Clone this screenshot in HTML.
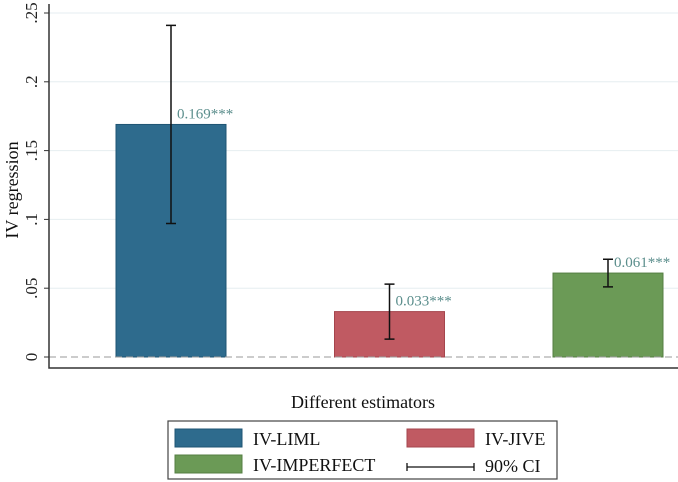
<!DOCTYPE html>
<html><head><meta charset="utf-8"><style>
body{margin:0;background:#fff;}
svg{display:block;font-family:"Liberation Serif",serif;}
</style></head><body>
<svg id="c" width="678" height="482"></svg>
<script>
const categories=["IV-LIML","IV-JIVE","IV-IMPERFECT"];
const values=[0.169,0.033,0.061];
const ciLow=[0.097,0.013,0.051];
const ciHigh=[0.241,0.053,0.071];
const valueLabels=["0.169***","0.033***","0.061***"];
const yTicks=[0,0.05,0.1,0.15,0.2,0.25];
const yTickLabels=["0",".05",".1",".15",".2",".25"];
const colors=["#2e6b8d","#c05a62","#6b9a56"];
const strokes=["#1f5574","#a5454d","#557f43"];
const NS="http://www.w3.org/2000/svg";
const svg=document.getElementById('c');
function y(v){return 357-v*1376;}
function x(i){return 116+i*218.5;}
const bw=110;
function mk(t,a,p){const e=document.createElementNS(NS,t);for(const k in a)e.setAttribute(k,a[k]);(p||svg).appendChild(e);return e;}
yTicks.forEach((t,i)=>{
 if(t>0){const g=mk('line',{x1:49,x2:678,y1:y(t),y2:y(t),stroke:'#e6eef0','stroke-width':1});
 
 }
 const tk=mk('line',{x1:44,x2:49,y1:y(t),y2:y(t),stroke:'#333'});
 
 
 const tx=mk('text',{x:37,y:y(t),'font-size':17,'text-anchor':'middle',transform:`rotate(-90 37 ${y(t)})`,fill:'#222'});
 tx.textContent=yTickLabels[i];
 
 
});
values.forEach((v,i)=>{
 const b=mk('rect',{x:x(i),y:y(v),width:bw,height:y(0)-y(v),fill:colors[i],stroke:strokes[i]});
 
 
 const cx=x(i)+bw/2;
 const e=mk('path',{d:`M${cx} ${y(ciLow[i])}V${y(ciHigh[i])}M${cx-5} ${y(ciLow[i])}h10M${cx-5} ${y(ciHigh[i])}h10`,stroke:'#111','stroke-width':1.5,fill:'none'});
 
 
 const t=mk('text',{x:cx+6,y:y(v)-6,'font-size':15,fill:'#5b8e8c'});
 t.textContent=valueLabels[i];
 
 
});
const z=mk('line',{x1:49,x2:678,y1:y(0),y2:y(0),stroke:'#999','stroke-dasharray':'7 4'});


const ax=mk('path',{d:'M49 4V368H678',stroke:'#333','stroke-width':1.5,fill:'none'});


const yt=mk('text',{x:18,y:190,'font-size':18,'text-anchor':'middle',transform:'rotate(-90 18 190)',fill:'#111'});
yt.textContent='IV regression';


const xt=mk('text',{x:363,y:408,'font-size':18,'text-anchor':'middle',fill:'#111'});
xt.textContent='Different estimators';


const lg=mk('rect',{x:168,y:421,width:389,height:58,fill:'#fff',stroke:'#444','stroke-width':1.2});


const entries=[[175,429,0],[407,429,1],[175,455,2]];
entries.forEach(([ex,ey,i])=>{
 const r=mk('rect',{x:ex,y:ey,width:67,height:18,fill:colors[i],stroke:strokes[i]});
 
 
 const t=mk('text',{x:ex+78,y:ey+16,'font-size':18,fill:'#111'});
 t.textContent=categories[i];
 
 
});
const ci=mk('path',{d:'M407 463v8M407 467H474M474 463v8',stroke:'#111','stroke-width':1.3,fill:'none'});


const cit=mk('text',{x:485,y:472,'font-size':18,fill:'#111'});
cit.textContent='90% CI';


</script>
</body></html>
